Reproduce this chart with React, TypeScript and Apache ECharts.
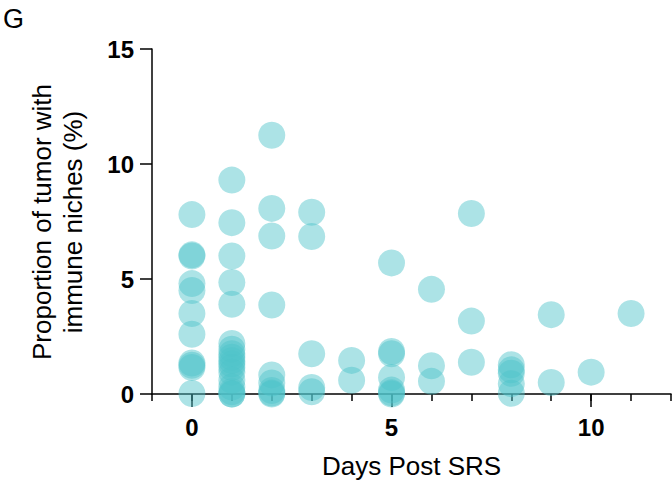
import React, { useEffect, useRef } from "react";
import * as echarts from "echarts";

// Days post SRS and proportion (%) values, one array per day
const day0 = [7.8, 6.05, 6.0, 4.8, 4.5, 3.5, 2.6, 1.35, 1.25, 1.15, 0.02];
const day1 = [9.3, 7.45, 6.0, 4.85, 3.9, 2.2, 1.95, 1.75, 1.6, 1.45, 1.3, 1.15, 0.95, 0.6, 0.3, 0.1, 0.0, 0.0];
const day2 = [11.25, 8.07, 6.87, 3.87, 0.83, 0.48, 0.15, 0.04, 0.0];
const day3 = [7.9, 6.85, 1.75, 0.28, 0.1];
const day4 = [1.46, 0.6];
const day5 = [5.7, 1.85, 1.75, 0.72, 0.17, 0.05, 0.0];
const day6 = [4.55, 1.23, 0.55];
const day7 = [7.85, 3.17, 1.38];
const day8 = [1.27, 1.05, 0.9, 0.45, 0.03];
const day9 = [3.45, 0.5];
const day10 = [0.95];
const day11 = [3.5];

const dayGroups: [number, number[]][] = [
  [0, day0], [1, day1], [2, day2], [3, day3], [4, day4], [5, day5],
  [6, day6], [7, day7], [8, day8], [9, day9], [10, day10], [11, day11],
];

const xMajorTicks = [0, 5, 10];
const yTicks = [0, 5, 10, 15];

const FONT = "Liberation Sans, Arial, Helvetica, sans-serif";

export default function App() {
  const ref = useRef<HTMLDivElement>(null);
  useEffect(() => {
    if (!ref.current) return;
    const chart = echarts.init(ref.current, undefined, { renderer: "svg" });
    const points: number[][] = [];
    dayGroups.forEach(([d, vals]) => vals.forEach((v) => points.push([d, v])));
    chart.setOption({
      animation: false,
      backgroundColor: "#ffffff",
      grid: { left: 152, right: 1, top: 49, bottom: 90, containLabel: false },
      xAxis: [
        {
          type: "value",
          min: -1,
          max: 12,
          position: "bottom",
          axisLine: { show: true, onZero: false, lineStyle: { color: "#000", width: 1.5 } },
          axisTick: { show: true, customValues: xMajorTicks, length: 13, lineStyle: { color: "#000", width: 1.5 } },
          axisLabel: {
            customValues: xMajorTicks,
            color: "#000",
            fontFamily: FONT,
            fontWeight: "bold",
            fontSize: 24,
            margin: 21,
          },
          splitLine: { show: false },
          name: "Days Post SRS",
          nameLocation: "middle",
          nameGap: 59,
          nameTextStyle: { color: "#000", fontFamily: FONT, fontSize: 26 },
        },
        {
          type: "value",
          min: -1,
          max: 12,
          interval: 1,
          position: "bottom",
          axisLine: { show: false, onZero: false },
          axisTick: { show: true, length: 7, lineStyle: { color: "#000", width: 1.5 } },
          axisLabel: { show: false },
          splitLine: { show: false },
        },
      ],
      yAxis: {
        type: "value",
        min: 0,
        max: 15,
        interval: 5,
        axisLine: { show: true, onZero: false, lineStyle: { color: "#000", width: 1.5 } },
        axisTick: { show: true, length: 12, lineStyle: { color: "#000", width: 1.5 } },
        axisLabel: {
          customValues: yTicks,
          color: "#000",
          fontFamily: FONT,
          fontWeight: "bold",
          fontSize: 24,
          margin: 18,
        },
        splitLine: { show: false },
      },
      graphic: [
        {
          type: "text",
          left: 3,
          top: 5,
          style: { text: "G", font: `normal 27px ${FONT}`, fill: "#000" },
        },
        {
          type: "text",
          x: 57,
          y: 222,
          rotation: Math.PI / 2,
          style: {
            text: "Proportion of tumor with\nimmune niches (%)",
            font: `normal 26px ${FONT}`,
            fill: "#000",
            align: "center",
            verticalAlign: "middle",
            lineHeight: 31,
          },
        },
      ],
      series: [
        {
          type: "scatter",
          xAxisIndex: 0,
          data: points,
          symbol: "circle",
          symbolSize: 27,
          clip: false,
          itemStyle: { color: "#4FC3C9", opacity: 0.47 },
          emphasis: { disabled: true },
        },
      ],
    });
    return () => chart.dispose();
  }, []);
  return <div ref={ref} style={{ width: 672, height: 484, position: "absolute", left: 0, top: 0 }} />;
}
